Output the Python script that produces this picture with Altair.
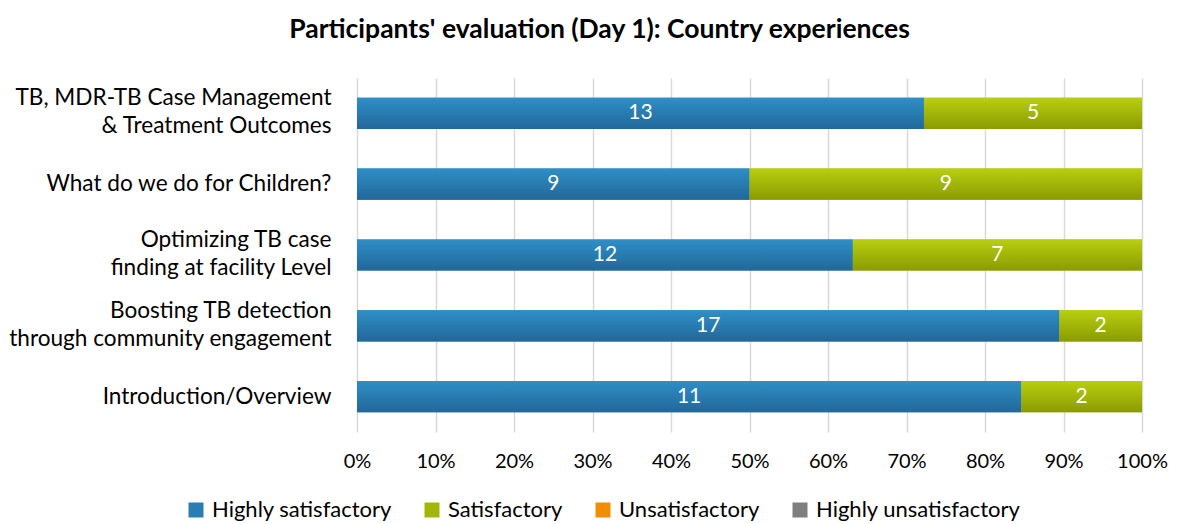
import altair as alt
import pandas as pd

categories = [
    "TB, MDR-TB Case Management|& Treatment Outcomes",
    "What do we do for Children?",
    "Optimizing TB case|finding at facility Level",
    "Boosting TB detection|through community engagement",
    "Introduction/Overview",
]
levels = ["Highly satisfactory", "Satisfactory", "Unsatisfactory", "Highly unsatisfactory"]
highly_satisfactory = [13, 9, 12, 17, 11]
satisfactory = [5, 9, 7, 2, 2]
unsatisfactory = [0, 0, 0, 0, 0]
highly_unsatisfactory = [0, 0, 0, 0, 0]
x_ticks = [0, 0.1, 0.2, 0.3, 0.4, 0.5, 0.6, 0.7, 0.8, 0.9, 1.0]

series = [highly_satisfactory, satisfactory, unsatisfactory, highly_unsatisfactory]
rows = []
for li, (lvl, vals) in enumerate(zip(levels, series)):
    for cat, v in zip(categories, vals):
        rows.append({"category": cat, "level": lvl, "order": li, "count": v})
df = pd.DataFrame(rows)

FONT = "Lato"
legend_colors = ["#2A7DB3", "#A2B608", "#F28C00", "#7F7F7F"]
gradients = {
    "Highly satisfactory": ["#2E8FC6", "#22679A"],
    "Satisfactory": ["#B8CF0F", "#8A9B01"],
}

base = alt.Chart(df).transform_joinaggregate(
    total="sum(count)", groupby=["category"]
).transform_calculate(
    pct="datum.count / datum.total"
).transform_stack(
    stack="pct", groupby=["category"], sort=[alt.SortField("order", "ascending")], as_=["x0", "x1"]
).transform_calculate(
    xmid="(datum.x0 + datum.x1) / 2"
)

y_enc = alt.Y(
    "category:N",
    sort=categories,
    title=None,
    scale=alt.Scale(paddingInner=0.56, paddingOuter=0.28),
    axis=alt.Axis(
        domain=False, ticks=False, labelExpr="split(datum.label, '|')",
        labelFontSize=22.6, labelFont=FONT, labelColor="#000000", labelPadding=26,
        labelLineHeight=28, labelLimit=0, labelBaseline="middle",
        labelOffset={"condition": {"test": "indexof(datum.label, '|') >= 0", "value": -15}, "value": 0},
    ),
)
x_enc = alt.X(
    "x0:Q",
    title=None,
    scale=alt.Scale(domain=[0, 1], nice=False),
    axis=alt.Axis(
        format=".0%", values=x_ticks, domain=False, ticks=False, grid=True,
        gridColor="#D9D9D9", gridWidth=1.5, labelFontSize=20, labelFont=FONT,
        labelColor="#000000", labelPadding=19, labelFlush=False,
    ),
)

bars = base.mark_bar().encode(
    y=y_enc,
    x=x_enc,
    x2="x1:Q",
    color=alt.Color(
        "level:N",
        scale=alt.Scale(domain=levels, range=legend_colors),
        legend=alt.Legend(
            title=None, orient="none", direction="horizontal", legendX=-172, legendY=421,
            symbolType="square", symbolSize=225, symbolStrokeWidth=0, labelFontSize=22,
            labelFont=FONT, labelColor="#000000", columnPadding=29, labelOffset=5,
            labelLimit=0, gridAlign="none",
        ),
    ),
)

grad_layers = []
for lvl, (c0, c1) in gradients.items():
    grad_layers.append(
        base.transform_filter(alt.datum.level == lvl).mark_bar(
            color=alt.Gradient(
                gradient="linear", x1=0, y1=0, x2=0, y2=1,
                stops=[alt.GradientStop(offset=0, color=c0), alt.GradientStop(offset=1, color=c1)],
            )
        ).encode(y=alt.Y("category:N", sort=categories), x="x0:Q", x2="x1:Q")
    )

labels = base.transform_filter(alt.datum.count > 0).mark_text(
    color="white", fontSize=21, font=FONT
).encode(
    y=alt.Y("category:N", sort=categories),
    x="xmid:Q",
    text="count:Q",
)

chart = alt.layer(bars, *grad_layers, labels).properties(
    width=785,
    height=354,
    title=alt.TitleParams(
        "Participants' evaluation (Day 1): Country experiences",
        font=FONT, fontSize=26.5, fontWeight="bold", color="#000000", offset=35, dx=-150,
    ),
    padding={"top": 8, "left": 0, "right": 0, "bottom": 0},
).configure_view(stroke=None)

chart.save("out.html", embed_options={"renderer": "svg", "actions": False})
